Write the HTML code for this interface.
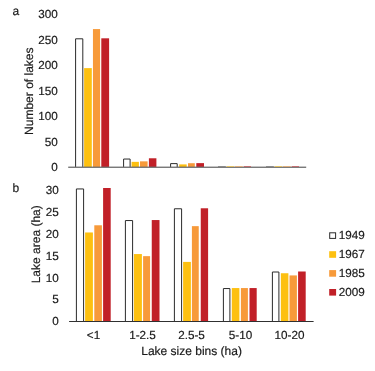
<!DOCTYPE html><html><head><meta charset="utf-8"><style>html,body{margin:0;padding:0;background:#fff}svg{display:block;will-change:transform}text{font-family:"Liberation Sans",sans-serif;font-size:12px;fill:#1a1a1a;stroke:#1a1a1a;stroke-width:0.18px;text-rendering:geometricPrecision}.t{font-size:11.7px}</style></head><body>
<svg width="375" height="371" viewBox="0 0 375 371">
<rect width="375" height="371" fill="#fff"/>
<path d="M75.60 167.00V38.81H82.80V167.00" fill="#fff" stroke="#2b2b2b" stroke-width="1.0"/>
<rect x="84.10" y="68.12" width="7.70" height="98.88" fill="#fdc010"/>
<rect x="92.95" y="29.08" width="7.15" height="137.92" fill="#f79a3a"/>
<rect x="101.30" y="38.31" width="7.80" height="128.69" fill="#c12028"/>
<path d="M123.60 167.00V159.04H130.10V167.00" fill="#fff" stroke="#2b2b2b" stroke-width="1.0"/>
<rect x="131.60" y="161.85" width="7.30" height="5.15" fill="#fdc010"/>
<rect x="140.00" y="161.34" width="7.60" height="5.66" fill="#f79a3a"/>
<rect x="148.90" y="158.28" width="7.50" height="8.72" fill="#c12028"/>
<path d="M170.60 167.00V163.62H177.20V167.00" fill="#fff" stroke="#2b2b2b" stroke-width="1.0"/>
<rect x="179.20" y="164.40" width="7.50" height="2.60" fill="#fdc010"/>
<rect x="188.00" y="163.22" width="6.80" height="3.78" fill="#f79a3a"/>
<rect x="196.30" y="163.12" width="7.70" height="3.88" fill="#c12028"/>
<rect x="68.2" y="166.6" width="237.99999999999997" height="1.3" fill="#6c6c6c"/>
<rect x="218.0" y="166.0" width="7.80" height="0.95" fill="#555" opacity="0.55"/>
<rect x="226.7" y="166.0" width="7.30" height="0.95" fill="#fdc010" opacity="0.55"/>
<rect x="235.0" y="166.0" width="7.70" height="0.95" fill="#f79a3a" opacity="0.55"/>
<rect x="243.8" y="166.0" width="7.20" height="0.95" fill="#c12028" opacity="0.55"/>
<rect x="266.0" y="166.0" width="7.80" height="0.95" fill="#555" opacity="0.55"/>
<rect x="274.7" y="166.0" width="7.30" height="0.95" fill="#fdc010" opacity="0.55"/>
<rect x="283.0" y="166.0" width="7.70" height="0.95" fill="#f79a3a" opacity="0.55"/>
<rect x="291.8" y="166.0" width="7.20" height="0.95" fill="#c12028" opacity="0.55"/>
<text class="t" x="57.7" y="171.00" text-anchor="end">0</text>
<text class="t" x="57.7" y="145.52" text-anchor="end">50</text>
<text class="t" x="57.7" y="120.03" text-anchor="end">100</text>
<text class="t" x="57.7" y="94.55" text-anchor="end">150</text>
<text class="t" x="57.7" y="69.07" text-anchor="end">200</text>
<text class="t" x="57.7" y="43.58" text-anchor="end">250</text>
<text class="t" x="57.7" y="18.10" text-anchor="end">300</text>
<text x="12.6" y="15.3">a</text>
<text transform="translate(33.3,91.2) rotate(-90)" text-anchor="middle">Number of lakes</text>
<path d="M76.40 321.00V188.94H83.60V321.00" fill="#fff" stroke="#2b2b2b" stroke-width="1.0"/>
<rect x="85.10" y="232.47" width="7.80" height="88.53" fill="#fdc010"/>
<rect x="94.30" y="225.28" width="7.60" height="95.72" fill="#f79a3a"/>
<rect x="103.10" y="188.00" width="7.60" height="133.00" fill="#c12028"/>
<path d="M125.40 321.00V220.55H132.60V321.00" fill="#fff" stroke="#2b2b2b" stroke-width="1.0"/>
<rect x="133.90" y="254.06" width="8.00" height="66.94" fill="#fdc010"/>
<rect x="143.10" y="256.15" width="7.00" height="64.85" fill="#f79a3a"/>
<rect x="151.75" y="220.05" width="7.75" height="100.95" fill="#c12028"/>
<path d="M174.40 321.00V208.78H181.60V321.00" fill="#fff" stroke="#2b2b2b" stroke-width="1.0"/>
<rect x="183.10" y="261.90" width="7.80" height="59.10" fill="#fdc010"/>
<rect x="191.90" y="226.15" width="6.85" height="94.85" fill="#f79a3a"/>
<rect x="200.75" y="208.28" width="7.35" height="112.72" fill="#c12028"/>
<path d="M223.40 321.00V288.56H229.90V321.00" fill="#fff" stroke="#2b2b2b" stroke-width="1.0"/>
<rect x="231.80" y="288.06" width="7.60" height="32.94" fill="#fdc010"/>
<rect x="240.90" y="288.06" width="7.00" height="32.94" fill="#f79a3a"/>
<rect x="249.50" y="288.06" width="7.20" height="32.94" fill="#c12028"/>
<path d="M272.40 321.00V272.00H278.90V321.00" fill="#fff" stroke="#2b2b2b" stroke-width="1.0"/>
<rect x="280.85" y="273.24" width="7.55" height="47.76" fill="#fdc010"/>
<rect x="289.50" y="275.42" width="7.40" height="45.58" fill="#f79a3a"/>
<rect x="298.10" y="271.50" width="7.60" height="49.50" fill="#c12028"/>
<rect x="69.1" y="321" width="244.50000000000003" height="1" fill="#303030"/>
<text class="t" x="58.75" y="325.25" text-anchor="end">0</text>
<text class="t" x="58.75" y="303.45" text-anchor="end">5</text>
<text class="t" x="58.75" y="281.65" text-anchor="end">10</text>
<text class="t" x="58.75" y="259.85" text-anchor="end">15</text>
<text class="t" x="58.75" y="238.05" text-anchor="end">20</text>
<text class="t" x="58.75" y="216.25" text-anchor="end">25</text>
<text class="t" x="58.75" y="194.45" text-anchor="end">30</text>
<text x="12.6" y="192">b</text>
<text transform="translate(40.2,244.3) rotate(-90)" text-anchor="middle">Lake area (ha)</text>
<text x="93.50" y="339.1" class="t" text-anchor="middle">&lt;1</text>
<text x="142.50" y="339.1" class="t" text-anchor="middle">1-2.5</text>
<text x="191.50" y="339.1" class="t" text-anchor="middle">2.5-5</text>
<text x="240.50" y="339.1" class="t" text-anchor="middle">5-10</text>
<text x="289.50" y="339.1" class="t" text-anchor="middle">10-20</text>
<text x="191.6" y="355.15" text-anchor="middle">Lake size bins (ha)</text>
<rect x="329.7" y="232.80" width="5.9" height="5.6" fill="#fff" stroke="#2b2b2b" stroke-width="1"/>
<text class="t" x="338.7" y="239.25">1949</text>
<rect x="329.2" y="251.20" width="6.9" height="6.6" fill="#fdc010"/>
<text class="t" x="338.7" y="258.15">1967</text>
<rect x="329.2" y="270.10" width="6.9" height="6.6" fill="#f79a3a"/>
<text class="t" x="338.7" y="277.05">1985</text>
<rect x="329.2" y="289.00" width="6.9" height="6.6" fill="#c12028"/>
<text class="t" x="338.7" y="295.95">2009</text>
</svg></body></html>
